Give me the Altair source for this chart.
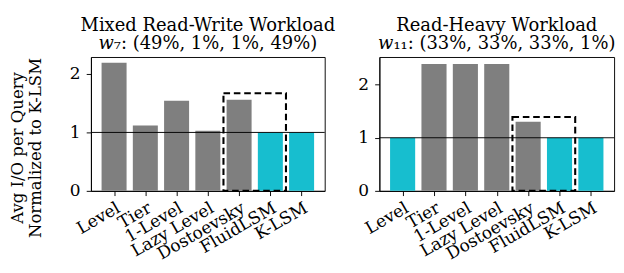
import json
import altair as alt
import pandas as pd

categories = ["Level", "Tier", "1-Level", "Lazy Level", "Dostoevsky", "FluidLSM", "K-LSM"]
mixed_values = [2.19, 1.12, 1.54, 1.03, 1.56, 1.0, 1.0]
read_values = [1.0, 2.39, 2.39, 2.39, 1.30, 1.0, 1.0]

mixed_title = ["Mixed Read-Write Workload", "\U0001D464\u2087: (49%, 1%, 1%, 49%)"]
read_title = ["Read-Heavy Workload", "\U0001D464\u2081\u2081: (33%, 33%, 33%, 1%)"]

# dashed highlight box (category-index span and height)
box_span = [3.5, 5.5]
mixed_box_top = 1.67
read_box_top = 1.39

mixed_ymax = 2.29
read_ymax = 2.52

FONT = "DejaVu Serif"
FS = 18
TFS = 19
GRAY = "#7f7f7f"
CYAN = "#17becf"

label_expr = json.dumps(categories) + "[datum.value]"


def panel(values, title, ymax, box_top, show_ytitle, width):
    df = pd.DataFrame({"cat": categories, "idx": list(range(len(categories))), "val": values})
    xscale = alt.Scale(domain=[-0.74, len(categories) - 1 + 0.74], nice=False, zero=False)
    yscale = alt.Scale(domain=[0, ymax], nice=False)
    xaxis = alt.Axis(values=list(range(len(categories))), labelExpr=label_expr, labelAngle=-30,
                     labelAlign="right", labelBaseline="top", grid=False, title=None,
                     labelPadding=4, labelOverlap=False)
    if show_ytitle:
        yaxis = alt.Axis(values=[0, 1, 2], format="d", grid=False, labelPadding=6.5,
                         title=["Avg I/O per Query", "Normalized to K-LSM"],
                         titleFontSize=17.5, titlePadding=27, titleLineHeight=19, titleY=96)
    else:
        yaxis = alt.Axis(values=[0, 1, 2], format="d", grid=False, labelPadding=6.5, title=None)
    bars = alt.Chart(df).transform_calculate(
        x0="datum.idx - 0.4", x1="datum.idx + 0.4",
        best="datum.val <= 1.0 ? 'best' : 'other'"
    ).mark_rect().encode(
        x=alt.X("x0:Q", scale=xscale, axis=xaxis),
        x2="x1:Q",
        y=alt.Y("val:Q", scale=yscale, axis=yaxis),
        y2=alt.datum(0),
        color=alt.Color("best:N", scale=alt.Scale(domain=["best", "other"], range=[CYAN, GRAY]), legend=None),
    )
    rule = alt.Chart(pd.DataFrame({"v": [1]})).mark_rule(color="black", strokeWidth=1).encode(
        y=alt.Y("v:Q", scale=yscale)
    )
    box_df = pd.DataFrame({"x0": [box_span[0]], "x1": [box_span[1]], "y0": [0], "y1": [box_top]})
    box = alt.Chart(box_df).mark_rect(fill=None, stroke="black", strokeWidth=2.2, strokeDash=[7, 4]).encode(
        x=alt.X("x0:Q", scale=xscale), x2="x1:Q",
        y=alt.Y("y0:Q", scale=yscale), y2="y1:Q",
    )
    return alt.layer(bars, rule, box).properties(
        width=width, height=142,
        title=alt.TitleParams(text=title, font=FONT, fontSize=TFS, fontWeight="normal",
                              color="black", offset=4, lineHeight=20),
    )


left = panel(mixed_values, mixed_title, mixed_ymax, mixed_box_top, True, 248)
right = panel(read_values, read_title, read_ymax, read_box_top, False, 249)

chart = alt.hconcat(left, right, spacing=22).properties(
    padding={"left": 0, "top": 0, "right": 0, "bottom": 0}
).configure_view(
    stroke="black", strokeWidth=1
).configure_axis(
    labelFont=FONT, labelFontSize=FS, labelColor="black",
    titleFont=FONT, titleFontSize=FS, titleColor="black", titleFontWeight="normal",
    domainColor="black", tickColor="black", tickSize=5, domainWidth=1, tickWidth=1,
)

chart.save("out.html", embed_options={"renderer": "svg", "actions": False})
